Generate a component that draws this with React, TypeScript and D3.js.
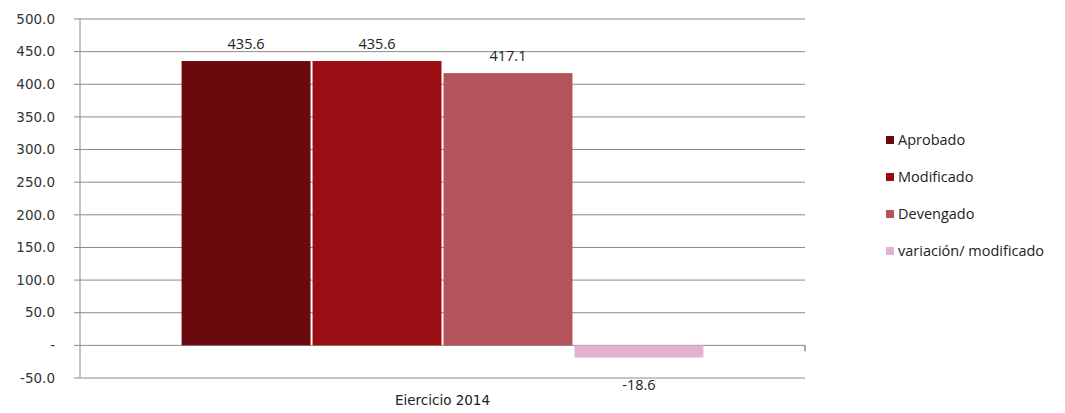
import React from "react";
import * as d3 from "d3";

const categories = ["Ejercicio 2014"];
const seriesNames = ["Aprobado", "Modificado", "Devengado", "variación/ modificado"];
const seriesValues = [435.6, 435.6, 417.1, -18.6];
const seriesColors = ["#6a0a0e", "#990d13", "#b5535d", "#e3b1d2"];
const yTicks = [-50, 0, 50, 100, 150, 200, 250, 300, 350, 400, 450, 500];

const W = 1065;
const H = 413;
const margin = { left: 80, right: 260, top: 19, bottom: 35 };

export default function App() {
  const x0 = d3.scaleBand().domain(categories).range([margin.left, W - margin.right]).paddingInner(0).paddingOuter(0.192);
  const x1 = d3.scaleBand().domain(seriesNames).range([0, x0.bandwidth()]).padding(0);
  const y = d3.scaleLinear().domain([-50, 500]).range([H - margin.bottom, margin.top]);
  const fmt1 = (v: number) => d3.format(".1f")(v).replace("−", "-");
  const fmtTick = (v: number) => (v === 0 ? "-" : fmt1(v));
  const font = "'DejaVu Sans', sans-serif";
  const lfont = "'Open Sans', 'Liberation Sans', sans-serif";
  const plotRight = W - margin.right;
  return (
    <div style={{ margin: -8 }}>
      <svg width={W} height={H} style={{ display: "block", background: "#fff" }}>
        {yTicks.map((t) => (
          <g key={t}>
            <line x1={margin.left - 6} x2={plotRight} y1={y(t)} y2={y(t)} stroke="#8a8a8a" strokeWidth={1} />
            <text x={55} y={y(t)} dy="0.35em" textAnchor="end" fontFamily={font} fontSize={13.5} fill="#333">
              {fmtTick(t)}
            </text>
          </g>
        ))}
        <line x1={margin.left} x2={margin.left} y1={y(500)} y2={y(-50)} stroke="#8a8a8a" />
        <line x1={plotRight} x2={plotRight} y1={y(0)} y2={y(0) + 6} stroke="#555" />
        {categories.map((c) => (
          <g key={c}>
            {seriesNames.map((s, i) => {
              const v = seriesValues[i];
              const bx = (x0(c) as number) + (x1(s) as number);
              const bw = x1.bandwidth();
              const top = y(Math.max(0, v));
              const bot = y(Math.min(0, v));
              return (
                <g key={s}>
                  <rect x={bx + 1} y={top} width={bw - 2} height={bot - top} fill={seriesColors[i]} />
                  <text
                    x={bx + bw / 2}
                    y={v >= 0 ? y(v) - 17 : y(-50) + 7}
                    dy="0.35em"
                    textAnchor="middle"
                    fontFamily={lfont}
                    fontSize={14.5}
                    fill="#222"
                  >
                    {fmt1(v)}
                  </text>
                </g>
              );
            })}
            <text x={(x0(c) as number) + x0.bandwidth() / 2} y={H - 8} textAnchor="middle" fontFamily={font} fontSize={13.5} fill="#222">
              {c}
            </text>
          </g>
        ))}
        {seriesNames.map((s, i) => (
          <g key={s} transform={`translate(886, ${140 + i * 37})`}>
            <rect x={0} y={-4} width={8} height={8} fill={seriesColors[i]} />
            <text x={12} y={0} dy="0.35em" fontFamily={lfont} fontSize={14.5} fill="#222">
              {s}
            </text>
          </g>
        ))}
      </svg>
    </div>
  );
}
